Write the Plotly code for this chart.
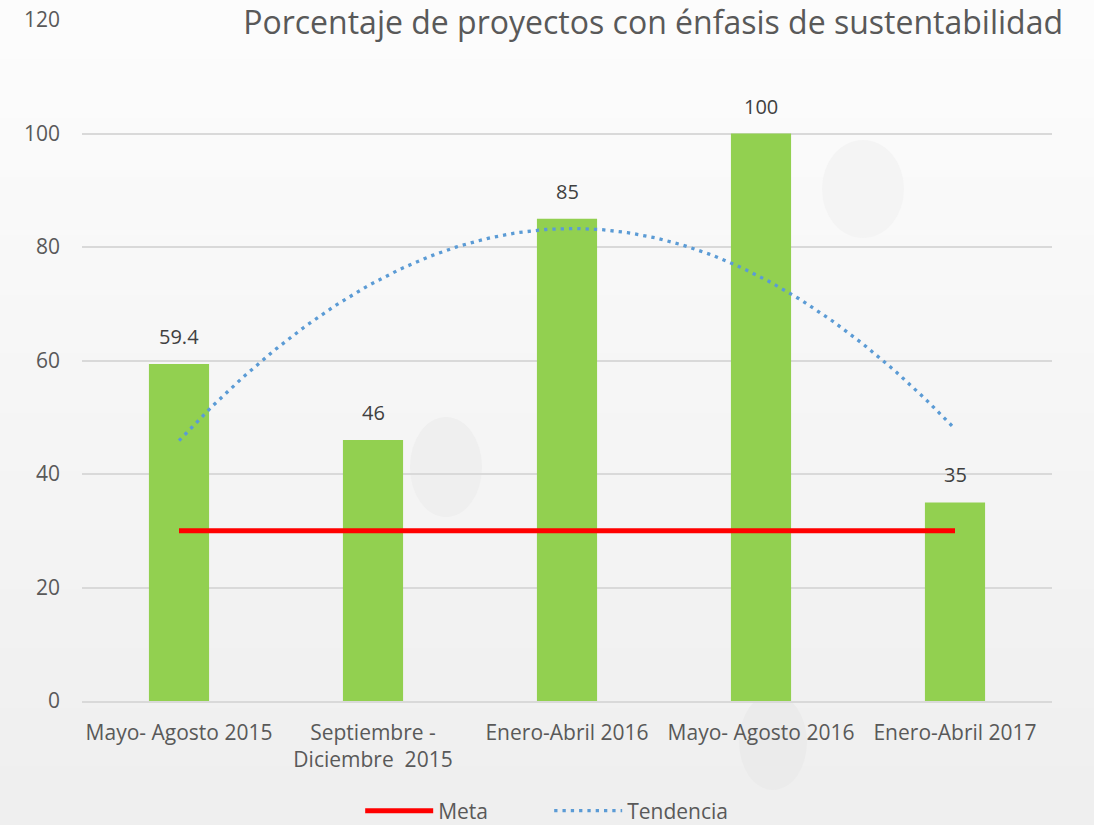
import numpy as np
import plotly.graph_objects as go

categories = ["Mayo- Agosto 2015", "Septiembre -<br>Diciembre  2015", "Enero-Abril 2016",
              "Mayo- Agosto 2016", "Enero-Abril 2017"]
values = [59.4, 46, 85, 100, 35]
labels = ["59.4", "46", "85", "100", "35"]
meta = [30, 30, 30, 30, 30]
title = "Porcentaje de proyectos con énfasis de sustentabilidad"
y_ticks = [0, 20, 40, 60, 80, 100, 120]

x_idx = np.arange(len(values))
coef = np.polyfit(x_idx, values, 2)
x_fine = np.linspace(0, len(values) - 1, 200)
trend = np.polyval(coef, x_fine)

W, H = 1094, 825
ML, MR, MT, MB = 82, 42, 20, 124
PW, PH = W - ML - MR, H - MT - MB


def px(x):
    return (x - ML) / PW


def py(y):
    return (H - MB - y) / PH


FONT = "Open Sans"
fig = go.Figure()
fig.add_trace(go.Bar(x=x_idx, y=values, marker=dict(color="#92D050", line=dict(width=0)),
                     showlegend=False, hoverinfo="skip"))
fig.add_trace(go.Scatter(x=x_idx, y=meta, mode="lines", name="Meta",
                         line=dict(color="#FF0000", width=5)))
fig.add_trace(go.Scatter(x=x_fine, y=trend, mode="lines", name="Tendencia",
                         line=dict(color="#5B9BD5", width=3.3, dash="3.3px,5px")))

for i, (v, t) in enumerate(zip(values, labels)):
    fig.add_annotation(x=i, y=v, text=t, showarrow=False, yanchor="bottom", yshift=12,
                       font=dict(family=FONT, size=20, color="#404040"))

# subtle decorative background (soft vertical fade and faint circles)
grays = [252, 251, 250, 249, 248, 247, 246, 245, 244, 243, 242, 241, 240, 239]
step = H / len(grays)
for k, g in enumerate(grays):
    c = f"rgb({g},{g},{g})"
    fig.add_shape(type="rect", xref="paper", yref="paper", x0=px(0), x1=px(W),
                  y0=py((k + 1) * step + 1), y1=py(k * step), fillcolor=c,
                  line=dict(width=0), layer="below")
circles = [(863, 189, 41, 49, 5), (446, 467, 36, 50, 6), (773, 742, 34, 48, 5)]
for cx, cy, rx, ry, d in circles:
    g = grays[min(int(cy / step), len(grays) - 1)] - d
    fig.add_shape(type="circle", xref="paper", yref="paper", x0=px(cx - rx), x1=px(cx + rx),
                  y0=py(cy + ry), y1=py(cy - ry), fillcolor=f"rgb({g},{g},{g})",
                  line=dict(width=0), layer="below")

fig.update_layout(
    width=W, height=H,
    margin=dict(l=ML, r=MR, t=MT, b=MB, autoexpand=False),
    paper_bgcolor="#f3f3f3", plot_bgcolor="rgba(0,0,0,0)",
    bargap=0.69,
    font=dict(family=FONT, size=20, color="#595959"),
    title=dict(text=title, x=0.9717, xanchor="right", xref="container", y=0.972, yanchor="middle",
               font=dict(family=FONT, size=32, color="#595959")),
    legend=dict(orientation="h", x=0.502, xanchor="center", xref="container",
                y=py(811), yanchor="middle", yref="paper", itemwidth=68, entrywidth=106,
                font=dict(family=FONT, size=21, color="#595959"), bgcolor="rgba(0,0,0,0)"),
    xaxis=dict(tickmode="array", tickvals=list(x_idx), ticktext=categories, range=[-0.5, 4.5],
               showgrid=False, showline=True, linecolor="#d9d9d9", linewidth=1.5, ticks="",
               ticklabelstandoff=12, automargin=False,
               tickfont=dict(family=FONT, size=21, color="#595959"), zeroline=False),
    yaxis=dict(range=[0, 120], tickvals=y_ticks, showgrid=True, gridcolor="#d9d9d9", gridwidth=1.5,
               zeroline=False, showline=False, ticks="", ticklabelstandoff=21, automargin=False,
               tickfont=dict(family=FONT, size=21, color="#595959")),
)
fig.write_html("out.html", config={"displayModeBar": False},
               post_script="document.body.style.margin='0';document.body.style.overflow='hidden';")
